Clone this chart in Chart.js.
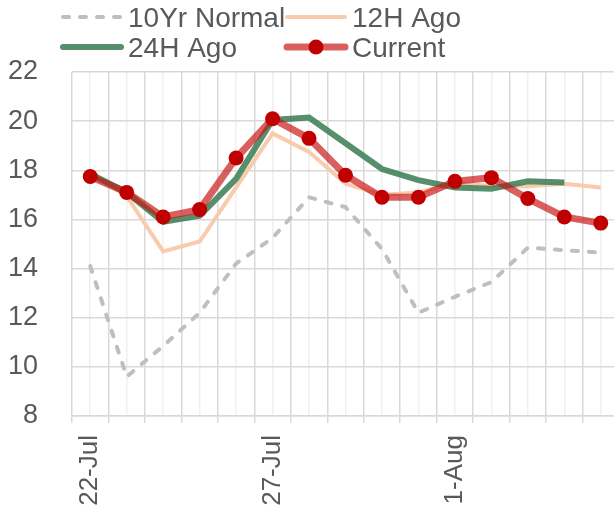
<!DOCTYPE html>
<html>
<head>
<meta charset="utf-8">
<script src="https://cdn.jsdelivr.net/npm/chart.js@4"></script>
<style>
  html, body { margin: 0; padding: 0; background: #fff; overflow: hidden; }
  #wrap { width: 614px; height: 507px; overflow: hidden; }
  canvas { display: block; }
</style>
</head>
<body>
<div id="wrap"><canvas id="myChart" width="622" height="507"></canvas></div>
<script>
const days = ["22-Jul", "23-Jul", "24-Jul", "25-Jul", "26-Jul", "27-Jul", "28-Jul", "29-Jul",
    "30-Jul", "31-Jul", "1-Aug", "2-Aug", "3-Aug", "4-Aug", "5-Aug"]
const shownDays = ["22-Jul", "27-Jul", "1-Aug"]
const yTicks = [8, 10, 12, 14, 16, 18, 20, 22]

const normal10 = [14.1, 9.6, 10.85, 12.2, 14.2, 15.25, 16.9, 16.5, 14.8, 12.2, 12.85, 13.45, 14.85, 14.75, 14.65]
const ago12 = [17.9, 16.95, 14.7, 15.1, 17.3, 19.5, 18.75, 17.45, 17.0, 17.1, 17.5, 17.35, 17.35, 17.45, 17.3]
const ago24 = [17.85, 17.1, 15.9, 16.15, 17.65, 20.05, 20.15, 19.1, 18.05, 17.6, 17.3, 17.25, 17.55, 17.5, null]
const current = [17.75, 17.1, 16.1, 16.4, 18.5, 20.1, 19.3, 17.8, 16.9, 16.9, 17.55, 17.7, 16.85, 16.1, 15.85]

const textColor = "#595959"
const gridColor = "#d9d9d9"

// legend is drawn by hand so the two columns line up like the original
const legendPlugin = {
    id: "gridLegend",
    afterDraw(chart) {
        const ctx = chart.ctx
        const cols = [63, 287]
        const rows = [17, 47]
        ctx.save()
        chart.data.datasets.forEach((ds, i) => {
            const x = cols[i % 2]
            const y = rows[Math.floor(i / 2)]
            ctx.beginPath()
            ctx.lineCap = "round"
            ctx.strokeStyle = ds.borderColor
            ctx.lineWidth = ds.borderWidth
            ctx.setLineDash(ds.borderDash || [])
            ctx.moveTo(x, y)
            ctx.lineTo(x + 58, y)
            ctx.stroke()
            ctx.setLineDash([])
            if (ds.pointRadius > 0) {
                ctx.beginPath()
                ctx.fillStyle = ds.pointBackgroundColor
                ctx.arc(x + 29, y, ds.pointRadius, 0, Math.PI * 2)
                ctx.fill()
            }
            ctx.fillStyle = textColor
            ctx.font = "28px 'Liberation Sans Narrow', 'Arial Narrow', sans-serif"
            ctx.textBaseline = "alphabetic"
            ctx.textAlign = "left"
            ctx.fillText(ds.label, x + 65, y + 10)
        })
        ctx.restore()
    }
}

// the x axis would otherwise reserve room on the right for its rotated labels
const noSidePadding = (scale) => {
    scale.paddingLeft = 0
    scale.paddingRight = 0
}

new Chart(document.getElementById("myChart"), {
    type: "line",
    data: {
        labels: days,
        datasets: [
            {
                label: "10Yr Normal", data: normal10, order: 4,
                borderColor: "#bfbfbf", borderWidth: 4, borderDash: [6, 11],
                borderCapStyle: "round", pointRadius: 0
            },
            {
                label: "12H Ago", data: ago12, order: 3,
                borderColor: "#f8cbad", borderWidth: 4, pointRadius: 0
            },
            {
                label: "24H Ago", data: ago24, order: 2,
                borderColor: "rgba(64, 128, 88, 0.88)", borderWidth: 6, pointRadius: 0
            },
            {
                label: "Current", data: current, order: 1,
                borderColor: "rgba(200, 20, 20, 0.68)", borderWidth: 7,
                pointRadius: 7.5, pointBackgroundColor: "#c00000", pointBorderWidth: 0,
                pointBorderColor: "#c00000"
            }
        ]
    },
    options: {
        responsive: false,
        animation: false,
        devicePixelRatio: 1,
        layout: { autoPadding: false, padding: { top: 72, right: 3, left: 0, bottom: 0 } },
        plugins: { legend: { display: false }, tooltip: { enabled: false } },
        scales: {
            x: {
                offset: true,
                grid: { offset: true, color: gridColor, lineWidth: 1.5, tickLength: 7, drawTicks: true },
                border: { color: gridColor, width: 1.5 },
                ticks: {
                    autoSkip: false, minRotation: 90, maxRotation: 90, padding: 12,
                    color: textColor, font: { size: 26, family: "'Liberation Sans', Arial, sans-serif" },
                    callback: (v, i) => shownDays.includes(days[i]) ? days[i] : ""
                },
                afterFit: (scale) => { scale.height = 91; noSidePadding(scale) }
            },
            x2: {
                type: "category",
                labels: days,
                position: "top",
                offset: true,
                z: -1,
                grid: { offset: false, color: "#efefef", lineWidth: 1.5, drawTicks: false },
                border: { display: false },
                ticks: { display: false },
                afterFit: (scale) => { scale.height = 0; noSidePadding(scale) }
            },
            y: {
                min: 8, max: 22,
                afterBuildTicks: (scale) => { scale.ticks = yTicks.map(v => ({ value: v })) },
                grid: { color: gridColor, lineWidth: 1.5, drawTicks: false },
                border: { display: false },
                ticks: {
                    padding: 34, color: textColor,
                    font: { size: 27, family: "'Liberation Sans', Arial, sans-serif" }
                },
                afterFit: (scale) => { scale.width = 72; scale.paddingTop = 0; scale.paddingBottom = 0 }
            }
        }
    },
    plugins: [legendPlugin]
})
</script>
</body>
</html>
